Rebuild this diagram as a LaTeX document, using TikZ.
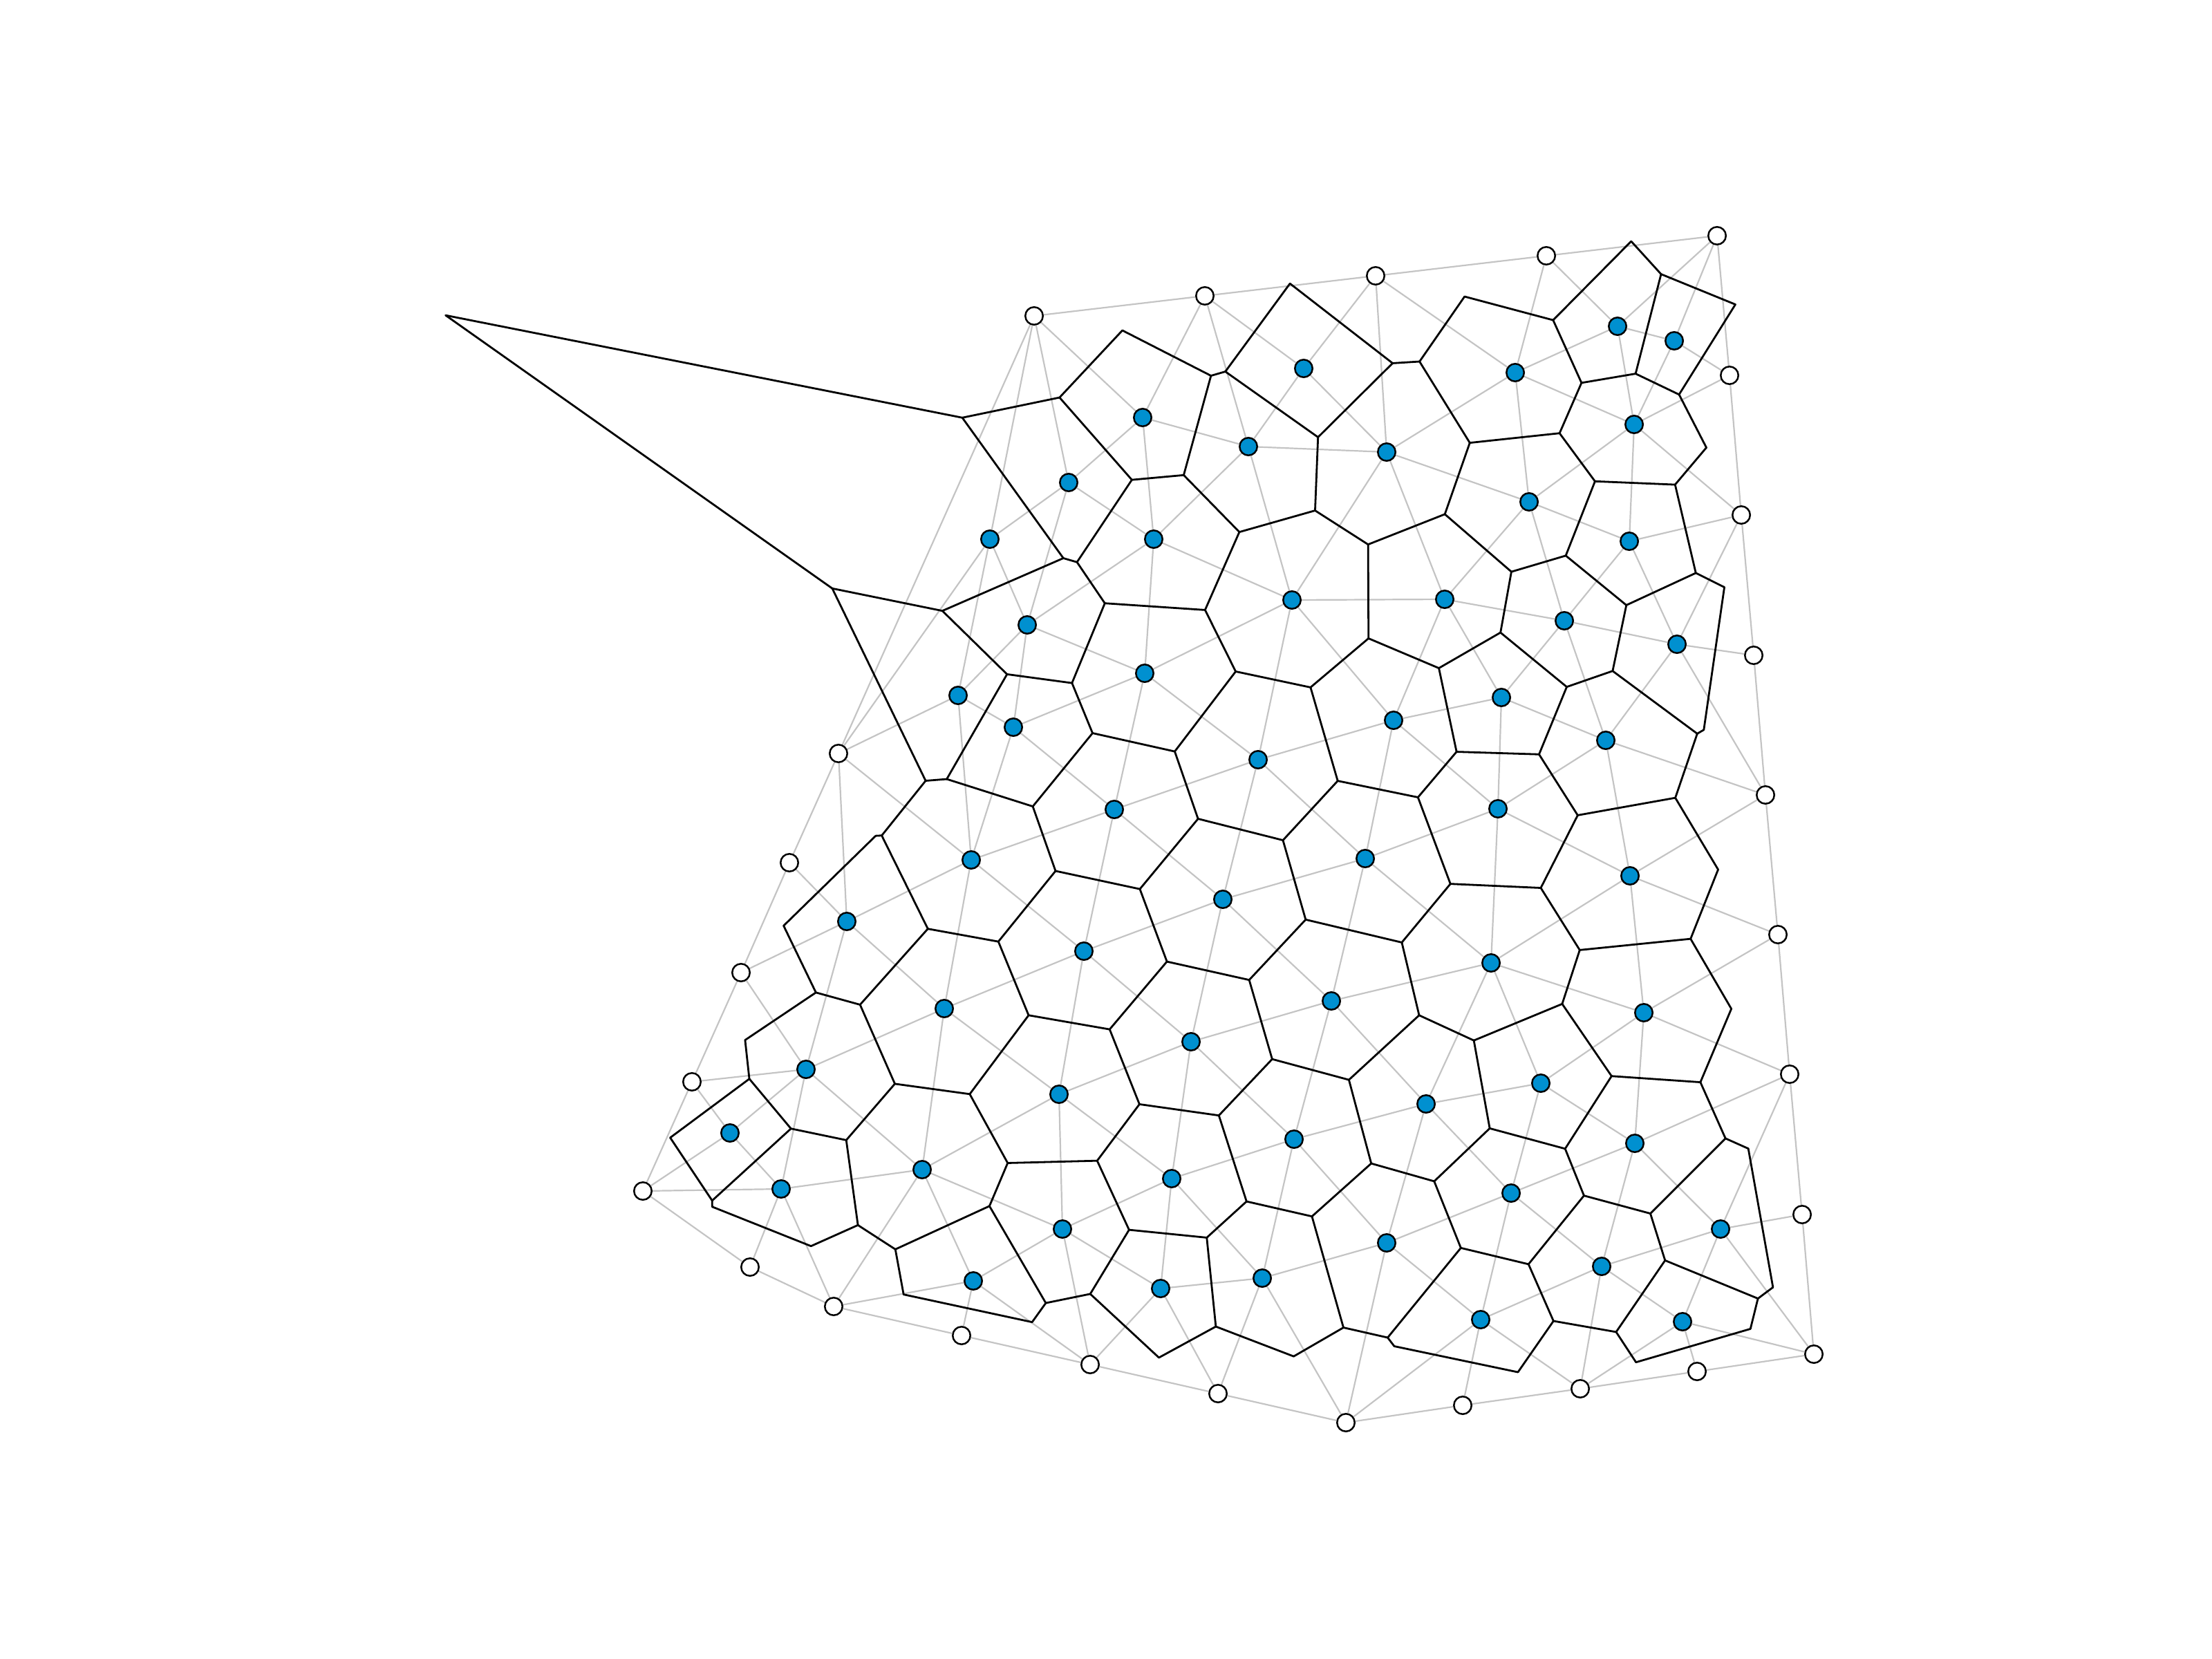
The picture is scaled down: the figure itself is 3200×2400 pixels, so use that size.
\documentclass[tikz,border=0pt]{standalone}
\usepackage{tikz}

\definecolor{siteblue}{RGB}{0,144,208}
\definecolor{edgegray}{RGB}{196,196,196}

\tikzset{
	delaunay/.style={draw=edgegray, line width=2.2pt}
}
\tikzset{
	voronoi/.style={draw=black, line width=2.8pt, line cap=round, line join=round}
}

\pgfdeclarelayer{delaunaylayer}
\pgfdeclarelayer{voronoilayer}
\pgfsetlayers{delaunaylayer,voronoilayer,main}

% sites, in pixels (y down)
\newcommand{\bluepts}{2340/472, 2422/493, 1886/533, 2192/539, 1653/604, 2364/614,
  1806/646, 2006/654, 1546/698, 2212/726, 1432/780, 1669/780, 2357/783, 1869/868,
  2090/867, 2263/898, 1486/904, 2426/932, 1656/974, 1386/1006, 2172/1009, 1466/1052,
  2016/1042, 2323/1071, 1820/1099, 1612/1171, 2167/1170, 1405/1244, 1975/1242,
  2358/1267, 1225/1333, 1769/1301, 1568/1376, 2157/1393, 1366/1459, 1926/1448,
  2378/1465, 1723/1507, 1166/1547, 1532/1583, 2229/1567, 1056/1639, 2063/1597,
  1872/1648, 2365/1654, 1334/1692, 1695/1705, 1130/1720, 2186/1726, 1537/1778,
  2489/1778, 2006/1798, 2317/1832, 1408/1853, 1826/1849, 1679/1864, 2142/1909,
  2434/1912}
\newcommand{\whitepts}{1496/457, 1743/428, 1990/399, 2237/370, 2484/341,
  2502/543, 2519/745, 2537/948, 2554/1150, 2572/1352, 2589/1554, 2607/1757, 2624/1959,
  2455/1984, 2286/2009, 2116/2033, 1947/2058, 1762/2016, 1577/1974, 1391/1932,
  1206/1890, 1085/1833, 930/1723, 1001/1565, 1072/1407, 1142/1248, 1213/1090}

\newcount\npts \newcount\nblue
\newcount\cI \newcount\cJ \newcount\cK
\newcount\xI \newcount\yI \newcount\xJ \newcount\yJ
\newcount\dX \newcount\dY \newcount\eK \newcount\fK
\newcount\aA \newcount\bB \newcount\tLo \newcount\tHi \newcount\tQ

\newcommand{\addpt}[2]{%
  \global\advance\npts by 1
  \expandafter\xdef\csname px\the\npts\endcsname{#1}%
  \expandafter\xdef\csname py\the\npts\endcsname{#2}}
\newcommand{\ptx}[1]{\csname px\number#1\endcsname}
\newcommand{\pty}[1]{\csname py\number#1\endcsname}
\newcommand{\pname}[1]{\ifnum#1>\nblue w\number\numexpr#1-\nblue\relax\else b\number#1\fi}

% cut the bisector of sites I and J by site K
\newcommand{\kbody}{%
  \ifnum\cK=\cI\else\ifnum\cK=\cJ\else
    \eK=\numexpr\ptx\cK-\xI\relax
    \fK=\numexpr\pty\cK-\yI\relax
    \aA=\numexpr2*(\fK*\dX-\eK*\dY)\relax
    \bB=\numexpr\eK*(\xJ-\ptx\cK)+\fK*(\yJ-\pty\cK)\relax
    \ifnum\aA=0
      \ifnum\bB>0 \tLo=65536000 \tHi=-65536000 \fi
    \else
      \tQ=\numexpr-\bB/\aA\relax
      \ifnum\tQ>1000 \tQ=65601536
      \else\ifnum\tQ<-1000 \tQ=-65601536
      \else\tQ=\numexpr-\bB*65536/\aA\relax\fi\fi
      \ifnum\aA>0 \ifnum\tQ<\tHi\tHi=\tQ\fi
      \else\ifnum\tQ>\tLo\tLo=\tQ\fi\fi
    \fi
  \fi\fi}
\newcommand{\kloop}{%
  \ifnum\cK>\npts\else
    \kbody
    \advance\cK by 1
    \expandafter\kloop
  \fi}
\newcommand{\drawpair}{%
  \ifnum\tLo>-58982400 \ifnum\tHi<58982400
    \edef\na{\pname\cI}\edef\nb{\pname\cJ}%
    \edef\ax{\the\dimexpr\numexpr(\xI+\xJ)*32-\tLo*\dY/1024\relax sp*1024\relax}%
    \edef\ay{\the\dimexpr-\numexpr(\yI+\yJ)*32+\tLo*\dX/1024\relax sp*1024\relax}%
    \edef\bx{\the\dimexpr\numexpr(\xI+\xJ)*32-\tHi*\dY/1024\relax sp*1024\relax}%
    \edef\by{\the\dimexpr-\numexpr(\yI+\yJ)*32+\tHi*\dX/1024\relax sp*1024\relax}%
    \begin{pgfonlayer}{delaunaylayer}\draw[delaunay] (\na) -- (\nb);\end{pgfonlayer}%
    \begin{pgfonlayer}{voronoilayer}\draw[voronoi] (\ax,\ay) -- (\bx,\by);\end{pgfonlayer}%
  \fi\fi}
\newcommand{\dopair}{%
  \xI=\ptx\cI\relax \yI=\pty\cI\relax
  \xJ=\ptx\cJ\relax \yJ=\pty\cJ\relax
  \dX=\numexpr\xJ-\xI\relax \dY=\numexpr\yJ-\yI\relax
  \ifnum\numexpr\dX*\dX+\dY*\dY\relax<250000
    \tLo=-65536000 \tHi=65536000 \cK=1
    \kloop
    \ifnum\tLo<\tHi \drawpair\fi
  \fi}
\newcommand{\jloop}{%
  \ifnum\cJ>\npts\else
    \dopair
    \advance\cJ by 1
    \expandafter\jloop
  \fi}
\newcommand{\iloop}{%
  \ifnum\cI>\nblue\else
    \cJ=\numexpr\cI+1\relax
    \jloop
    \advance\cI by 1
    \expandafter\iloop
  \fi}

\begin{document}
\begin{tikzpicture}[x=1pt, y=-1pt,
    bluesite/.style={circle, draw=black, line width=2.5pt, fill=siteblue, minimum size=25.5pt, inner sep=0pt},
    whitesite/.style={circle, draw=black, line width=2.5pt, fill=white, minimum size=25.5pt, inner sep=0pt}]
  \useasboundingbox (0,0) rectangle (3200,2400);
  \foreach \x/\y [count=\n] in \bluepts {
    \node[bluesite] (b\n) at (\x,\y) {};
    \addpt{\x}{\y}
  }
  \global\nblue=\npts
  \foreach \x/\y [count=\n] in \whitepts {
    \node[whitesite] (w\n) at (\x,\y) {};
    \addpt{\x}{\y}
  }
  % outline of the point set
  \begin{pgfonlayer}{delaunaylayer}
    \foreach \n [remember=\n as \m (initially 27)] in {1,...,27}
      \draw[delaunay] (w\m) -- (w\n);
  \end{pgfonlayer}
  % triangulation edges and cell walls of the blue sites
  \cI=1
  \iloop
\end{tikzpicture}
\end{document}
